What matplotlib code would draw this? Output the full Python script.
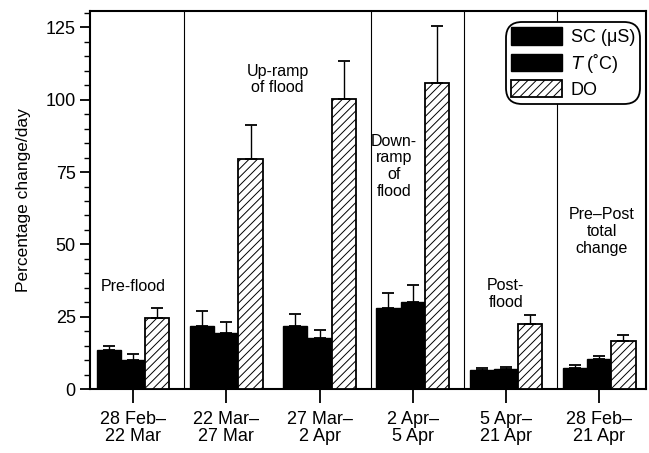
import numpy as np
import matplotlib
matplotlib.use("Agg")
import matplotlib.pyplot as plt

plt.rcParams['font.family'] = ['Liberation Sans', 'DejaVu Sans']
plt.rcParams['hatch.linewidth'] = 0.7

# period labels (x axis)
periods = ["28 Feb\u2013\n22 Mar", "22 Mar\u2013\n27 Mar", "27 Mar\u2013\n2 Apr",
           "2 Apr\u2013\n5 Apr", "5 Apr\u2013\n21 Apr", "28 Feb\u2013\n21 Apr"]

# mean percentage change per day
sc = [13.4, 21.7, 21.7, 27.9, 6.6, 7.2]
temp = [10.0, 19.3, 17.7, 30.0, 6.9, 10.3]
do = [24.5, 79.5, 100.3, 105.9, 22.4, 16.6]

# upper error bar tops
sc_top = [14.8, 26.9, 25.8, 33.1, 7.2, 8.3]
temp_top = [12.0, 23.1, 20.5, 35.9, 7.6, 11.4]
do_top = [28.0, 91.4, 113.4, 125.5, 25.5, 18.6]

# phase annotations
phase_text = ["Pre-flood", "Up-ramp\nof flood", "Down-\nramp\nof\nflood",
              "Post-\nflood", "Pre\u2013Post\ntotal\nchange"]
phase_x = [0.0, 1.55, 2.8, 4.0, 5.03]
phase_y = [35.5, 107, 77, 33, 54.5]

separators = [0.55, 2.55, 3.55, 4.55]

fig = plt.figure(figsize=(6.49, 4.53), dpi=100)
ax = fig.add_axes([0.139, 0.141, 0.856, 0.835])

x = np.arange(len(periods))
w = 0.26

def up_err(vals, tops):
    return [[0] * len(vals), [t - v for v, t in zip(vals, tops)]]

ekw = dict(ecolor='black', elinewidth=1.0, capthick=1.3)
ax.bar(x - w, sc, w, color='black', edgecolor='black', label='SC (\u03bcS)',
       yerr=up_err(sc, sc_top), capsize=4, error_kw=ekw, zorder=3)
ax.bar(x, temp, w, color='black', edgecolor='black', label='$T$ (\u02daC)',
       yerr=up_err(temp, temp_top), capsize=4, error_kw=ekw, zorder=3)
ax.bar(x + w, do, w, color='white', edgecolor='black', hatch='////',
       linewidth=1.3, label='DO', yerr=up_err(do, do_top), capsize=4,
       error_kw=ekw, zorder=3)

for s in separators:
    ax.axvline(s, color='black', lw=0.8, zorder=1)

for t, tx, ty in zip(phase_text, phase_x, phase_y):
    ax.text(tx, ty, t, ha='center', va='center', fontsize=11.5, linespacing=1.15)

ax.set_xlim(-0.46, 5.5)
ax.set_ylim(0, 130.7)
ax.set_xticks(x)
ax.set_xticklabels(periods, fontsize=13, linespacing=1.0)
ax.set_yticks([0, 25, 50, 75, 100, 125])
ax.set_yticks(np.arange(0, 131, 5), minor=True)
ax.tick_params(axis='y', labelsize=13, length=7, width=1.3, direction='out')
ax.tick_params(axis='y', which='minor', length=4, width=1.0)
ax.tick_params(axis='x', length=10, width=1.3, pad=6)
ax.set_ylabel('Percentage change/day', fontsize=12.5, labelpad=10)

for sp in ax.spines.values():
    sp.set_linewidth(1.5)

leg = ax.legend(loc='upper right', fontsize=13, handlelength=2.8, handleheight=1.1,
                frameon=True, fancybox=True, edgecolor='black', framealpha=1,
                borderpad=0.3, labelspacing=0.3, handletextpad=0.5,
                borderaxespad=0.3, bbox_to_anchor=(1.0, 0.985))
leg.get_frame().set_linewidth(1.3)
leg.get_frame().set_boxstyle('round', pad=0.0, rounding_size=0.9)

fig.savefig('out.png', dpi=100)
